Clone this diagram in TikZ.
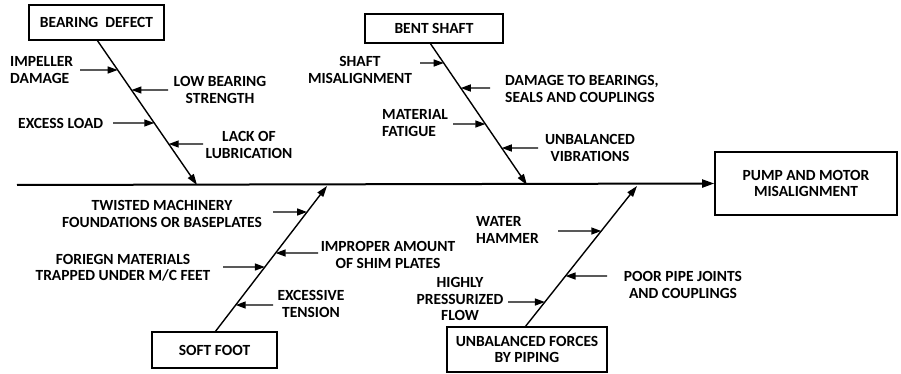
\documentclass[tikz,border=0pt]{standalone}
\usepackage{fontspec}
\setmainfont{Carlito}
\usetikzlibrary{arrows.meta}
\tikzset{
  lbl/.style={inner sep=0pt, font=\fontsize{15.5}{16.5}\selectfont\bfseries},
  box/.style={draw, line width=1.6pt, inner sep=0pt, font=\fontsize{15.5}{16.5}\selectfont\bfseries, align=center},
  arr/.style={line width=1.4pt, -{Triangle[length=10pt,width=7pt]}},
  bone/.style={line width=1.4pt, -{Triangle[length=11pt,width=7pt]}},
  spine/.style={line width=2pt, -{Triangle[length=12pt,width=8pt]}}
}
\newcommand\fishcause[5]{%
  \coordinate (#1s) at (#2,#3);
  \coordinate (#1h) at (0,#3);
  \coordinate (#1e) at (intersection of #4--#5 and #1s--#1h);
  \draw[arr] (#1s) -- (#1e);}
\begin{document}
\begin{tikzpicture}[x=1pt,y=-1pt]
\useasboundingbox[fill=white] (0,0) rectangle (901,374);
% boxes
\node[box, minimum width=135pt, minimum height=35pt] (bd) at (96.5,22.5) {BEARING~ DEFECT};
\node[box, minimum width=138pt, minimum height=29pt] (bs) at (434,28.5) {BENT SHAFT};
\node[box, minimum width=125pt, minimum height=36pt] (sf) at (214.5,350) {SOFT FOOT};
\node[box, minimum width=160pt, minimum height=45pt] (uf) at (527,349.5) {UNBALANCED FORCES\\BY PIPING};
\node[box, minimum width=182pt, minimum height=63pt] (pm) at (806,183.5) {PUMP AND MOTOR\\MISALIGNMENT};
% spine
\coordinate (tail) at (17,185);
\draw[spine] (tail) -- (pm.west);
% bones
\coordinate (bdA) at (97,40);  \coordinate (bdB) at (197,185);
\coordinate (bsA) at (430,43); \coordinate (bsB) at (527,185);
\coordinate (sfA) at (215,332); \coordinate (sfB) at (327,186);
\coordinate (ufA) at (525,327); \coordinate (ufB) at (637,186);
\draw[bone] (bdA) -- (bdB);
\draw[bone] (bsA) -- (bsB);
\draw[bone] (sfA) -- (sfB);
\draw[bone] (ufA) -- (ufB);
% labels
\node[lbl, align=left, anchor=west] (t1) at (10,70) {IMPELLER\\DAMAGE};
\node[lbl, align=center] (t2) at (220,90) {LOW BEARING\\STRENGTH};
\node[lbl, anchor=west] (t3) at (18,123) {EXCESS LOAD};
\node[lbl, align=center] (t4) at (249,145) {LACK OF\\LUBRICATION};
\node[lbl, align=center] (t5) at (360,70) {SHAFT\\MISALIGNMENT};
\node[lbl, align=left, anchor=west] (t6) at (505,89) {DAMAGE TO BEARINGS,\\SEALS AND COUPLINGS};
\node[lbl, align=left, anchor=west] (t7) at (382,123) {MATERIAL\\FATIGUE};
\node[lbl, align=center] (t8) at (590,148) {UNBALANCED\\VIBRATIONS};
\node[lbl, align=center] (t9) at (162,214) {TWISTED MACHINERY\\FOUNDATIONS OR BASEPLATES};
\node[lbl, align=center] (t10) at (123,268) {FORIEGN MATERIALS\\TRAPPED UNDER M/C FEET};
\node[lbl, align=center] (t11) at (388,255) {IMPROPER AMOUNT\\OF SHIM PLATES};
\node[lbl, align=center] (t12) at (311,304) {EXCESSIVE\\TENSION};
\node[lbl, align=left, anchor=west] (t13) at (476,230) {WATER\\HAMMER};
\node[lbl, align=center] (t14) at (683,285) {POOR PIPE JOINTS\\AND COUPLINGS};
\node[lbl, align=center] (t15) at (460,299) {HIGHLY\\PRESSURIZED\\FLOW};
% cause arrows
\fishcause{a1}{80}{70}{bdA}{bdB}
\fishcause{a2}{168}{90}{bdA}{bdB}
\fishcause{a3}{113}{123}{bdA}{bdB}
\fishcause{a4}{203}{144}{bdA}{bdB}
\fishcause{a5}{420}{63}{bsA}{bsB}
\fishcause{a6}{490}{88}{bsA}{bsB}
\fishcause{a7}{453}{124}{bsA}{bsB}
\fishcause{a8}{538}{148}{bsA}{bsB}
\fishcause{a9}{273}{212}{sfA}{sfB}
\fishcause{a10}{223}{267}{sfA}{sfB}
\fishcause{a11}{318}{253}{sfA}{sfB}
\fishcause{a12}{273}{305}{sfA}{sfB}
\fishcause{a13}{558}{231}{ufA}{ufB}
\fishcause{a14}{607}{276}{ufA}{ufB}
\fishcause{a15}{508}{302}{ufA}{ufB}
\end{tikzpicture}
\end{document}
